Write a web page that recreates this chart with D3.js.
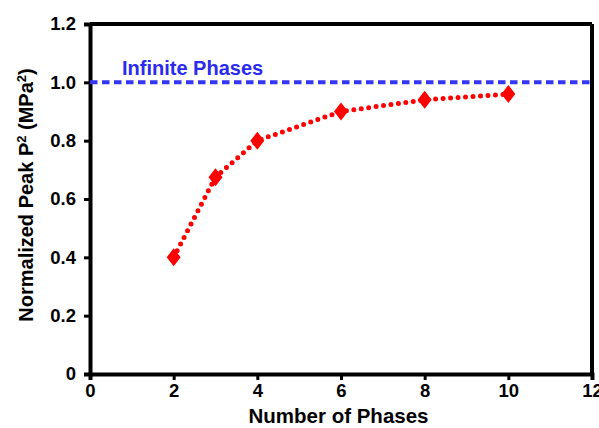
<!DOCTYPE html>
<html>
<head>
<meta charset="utf-8">
<script src="https://cdn.jsdelivr.net/npm/d3@7"></script>
<style>
  body { margin: 0; background: #fff; }
  text { font-family: "Liberation Sans", Arial, sans-serif; font-weight: bold; }
</style>
</head>
<body>
<div id="vis"></div>
<script>
// data
var phases = [2, 3, 4, 6, 8, 10];
var peakValues = [0.40, 0.675, 0.80, 0.90, 0.94, 0.96];
var infiniteLevel = 1.0;
var xTicks = [0, 2, 4, 6, 8, 10, 12];
var yTicks = [0, 0.2, 0.4, 0.6, 0.8, 1.0, 1.2];

var W = 599, H = 428;
var margin = {top: 24, right: 7, bottom: 54, left: 90};
var width = W - margin.left - margin.right,
    height = H - margin.top - margin.bottom;

var svg = d3.select("#vis").append("svg")
    .attr("width", W)
    .attr("height", H)
  .append("g")
    .attr("transform", "translate(" + margin.left + "," + margin.top + ")");

var x = d3.scaleLinear().domain([0, 12]).range([0, width]);
var y = d3.scaleLinear().domain([0, 1.2]).range([height, 0]);

// axes
var xAxis = svg.append("g")
    .attr("transform", "translate(0," + height + ")")
    .call(d3.axisBottom(x).tickValues(xTicks).tickSize(6).tickPadding(4).tickFormat(d3.format("d")));
var yAxis = svg.append("g")
    .call(d3.axisLeft(y).tickValues(yTicks).tickSize(6).tickPadding(8)
      .tickFormat(function(d){ return d === 0 ? "0" : d3.format(".1f")(d); }));

[xAxis, yAxis].forEach(function(a) {
  a.select(".domain").attr("stroke", "#000").attr("stroke-width", 4);
  a.selectAll(".tick line").attr("stroke", "#000").attr("stroke-width", 3);
  a.selectAll(".tick text").attr("fill", "#000").style("font-size", "18.5px");
});

// frame: top and right
svg.append("line")
    .attr("x1", 0).attr("x2", width).attr("y1", 0).attr("y2", 0)
    .attr("stroke", "#000").attr("stroke-width", 4);
svg.append("line")
    .attr("x1", width).attr("x2", width).attr("y1", 0).attr("y2", height)
    .attr("stroke", "#000").attr("stroke-width", 4);

// infinite phases reference line
svg.append("line")
    .attr("x1", 0).attr("x2", width)
    .attr("y1", y(infiniteLevel)).attr("y2", y(infiniteLevel))
    .attr("stroke", "#3535f5").attr("stroke-width", 4)
    .attr("stroke-dasharray", "7.5 4.5");

svg.append("text")
    .attr("x", 32)
    .attr("y", y(infiniteLevel) - 7.5)
    .attr("fill", "#2a2af0")
    .style("font-size", "20px")
    .text("Infinite Phases");

// dotted red line
var pts = phases.map(function(p, i) { return [p, peakValues[i]]; });
svg.append("path")
    .datum(pts)
    .attr("fill", "none")
    .attr("stroke", "#ff0000")
    .attr("stroke-width", 5)
    .attr("stroke-linecap", "round")
    .attr("stroke-dasharray", "0 7.5")
    .attr("d", d3.line().x(function(d){ return x(d[0]); }).y(function(d){ return y(d[1]); }));

// diamond markers
svg.selectAll(".marker")
    .data(pts)
    .enter().append("path")
    .attr("class", "marker")
    .attr("transform", function(d){ return "translate(" + x(d[0]) + "," + y(d[1]) + ")"; })
    .attr("d", "M0,-9 L7,0 L0,9 L-7,0 Z")
    .attr("fill", "#ff0000");

// axis titles
svg.append("text")
    .attr("x", 338.5 - margin.left)
    .attr("y", height + 49)
    .attr("text-anchor", "middle")
    .style("font-size", "20.5px")
    .text("Number of Phases");

var yt = svg.append("text")
    .attr("transform", "translate(" + (-57) + "," + (height / 2 - 4) + ") rotate(-90)")
    .attr("text-anchor", "middle")
    .style("font-size", "20px");
yt.append("tspan").text("Normalized Peak P");
yt.append("tspan").attr("baseline-shift", "super").style("font-size", "13px").text("2");
yt.append("tspan").text(" (MPa");
yt.append("tspan").attr("baseline-shift", "super").style("font-size", "13px").text("2");
yt.append("tspan").text(")");
</script>
</body>
</html>
